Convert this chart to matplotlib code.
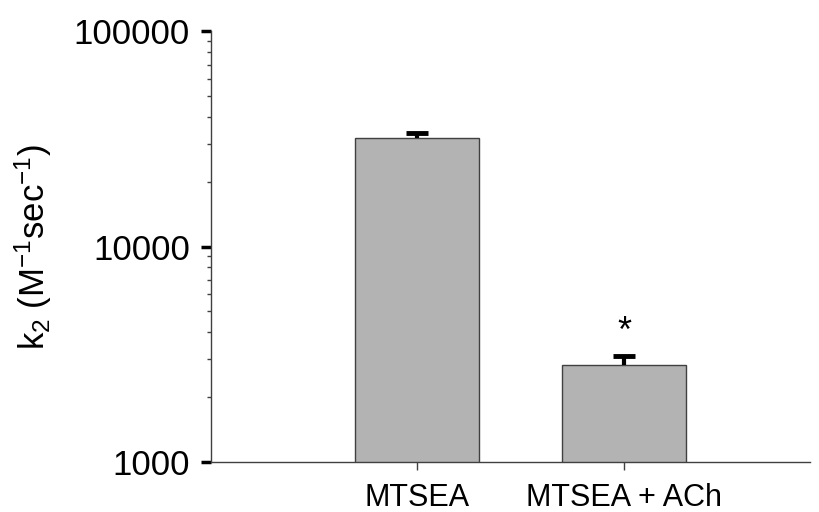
import matplotlib
matplotlib.use('Agg')
import matplotlib.pyplot as plt
from matplotlib.ticker import LogLocator, NullFormatter, FixedFormatter, FixedLocator

plt.rcParams['font.family'] = ['Liberation Sans', 'DejaVu Sans']
plt.rcParams['mathtext.fontset'] = 'custom'
plt.rcParams['mathtext.rm'] = 'Liberation Sans'
plt.rcParams['mathtext.it'] = 'Liberation Sans'

categories = ['MTSEA', 'MTSEA + ACh']
k2_values = [31900, 2820]
k2_errors = [1800, 265]
star_y = 4000

fig = plt.figure(figsize=(8.2, 5.12), dpi=100)
ax = fig.add_axes([0.257, 0.098, 0.731, 0.841])

x = [1, 2]
tops = [v + e for v, e in zip(k2_values, k2_errors)]
ax.bar(x, k2_values, width=0.6, color='#b3b3b3', edgecolor='#404040',
       linewidth=1, zorder=2)
# upper error bar only
ax.vlines(x, k2_values, tops, color='black', linewidth=3, zorder=3)
ax.plot(x, tops, linestyle='none', marker='_', markersize=16,
        markeredgewidth=3.5, color='black', zorder=3)
ax.text(2, star_y, '*', ha='center', va='center', fontsize=26)

ax.set_yscale('log')
ax.set_ylim(1000, 100000)
ax.set_xlim(0, 2.9)
ax.yaxis.set_major_locator(FixedLocator([1000, 10000, 100000]))
ax.yaxis.set_major_formatter(FixedFormatter(['1000', '10000', '100000']))
ax.yaxis.set_minor_locator(LogLocator(base=10, subs=range(2, 10)))
ax.yaxis.set_minor_formatter(NullFormatter())
ax.set_xticks(x)
ax.set_xticklabels(categories)

for s in ['top', 'right']:
    ax.spines[s].set_visible(False)
for s in ['left', 'bottom']:
    ax.spines[s].set_color('#404040')
    ax.spines[s].set_linewidth(1)

ax.tick_params(axis='y', which='major', direction='out', length=7, width=2.5,
               color='black', labelsize=25, pad=8)
ax.tick_params(axis='y', which='minor', direction='out', length=3, width=1,
               color='#404040')
ax.tick_params(axis='x', which='major', direction='out', length=6, width=1,
               color='#404040', labelsize=22, pad=9)

ax.set_ylabel(r'k$_2$ (M$^{-1}$sec$^{-1}$)', fontsize=25, labelpad=14)

fig.savefig('out.png', dpi=100)
